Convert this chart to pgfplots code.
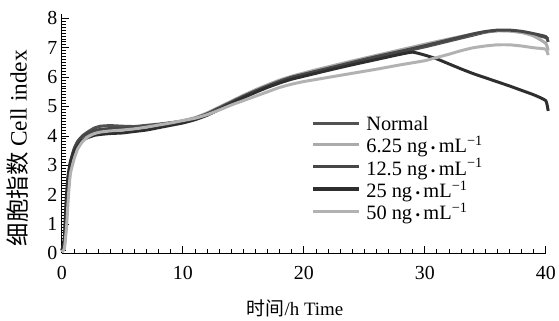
\documentclass[border=0pt]{standalone}
\usepackage{pgfplots}
\pgfplotsset{compat=1.18}
\usepackage{fontspec}
\setmainfont{Liberation Serif}
\newfontfamily\cjk{Noto Sans CJK SC}
\newcommand{\cdotb}{\,{\fontsize{13}{13}\selectfont •}\,}
\begin{document}
\begin{tikzpicture}
\begin{axis}[
  scale only axis, width=485bp, height=240bp,
  xmin=0, xmax=40, ymin=0, ymax=8.15,
  clip=false,
  axis x line*=bottom, axis y line*=left,
  axis line style={-, line width=1pt},
  xtick={0,10,20,30,40}, ytick={0,1,2,3,4,5,6,7,8},
  minor x tick num=9, minor y tick num=9,
  tick align=inside,
  major tick length=7bp, minor tick length=4bp,
  every tick/.style={black, line width=0.8pt},
  /pgf/number format/assume math mode=true,
  tick label style={font=\fontsize{20}{24}\selectfont},
  xticklabel style={yshift=-9bp},
  yticklabel style={xshift=-1bp},
  xlabel={{\cjk 时间}/h Time},
  ylabel={{\cjk 细胞指数} Cell index},
  xlabel style={font=\fontsize{19}{22}\selectfont, at={(axis description cs:0.482,0)}, anchor=center, yshift=-55bp},
  ylabel style={font=\fontsize{23.5}{26}\selectfont, at={(axis description cs:-0.091,0.44)}, anchor=center},
  legend style={at={(axis description cs:0.516,0.58)}, anchor=north west, draw=none, fill=none,
    font=\fontsize{20.5}{22}\selectfont, row sep=2.5bp, inner sep=0pt,
    nodes={inner sep=1.5bp, text depth=0pt}},
  legend cell align=left,
  legend image code/.code={\draw[#1, line width=3.2pt] (0bp,0bp) -- (46bp,0bp);},
  every axis plot/.append style={line width=3pt, smooth, tension=0.3},
]
\addplot[color=black!68] coordinates {(0,0.1)(0.2,0.3)(0.35,1.2)(0.5,2.3)(0.7,3.0)(1,3.5)(1.3,3.8)(1.7,4.0)(2.2,4.15)(2.7,4.27)(3.2,4.33)(4,4.35)(5,4.33)(6,4.32)(7,4.36)(8,4.4)(9,4.45)(10,4.5)(11,4.58)(12,4.72)(13,4.9)(14,5.1)(15,5.3)(16,5.5)(17,5.68)(18,5.85)(19,5.98)(20,6.08)(21,6.18)(22,6.28)(24,6.47)(26,6.66)(28,6.85)(30,7.03)(32,7.23)(34,7.43)(35,7.53)(36,7.58)(37,7.58)(38,7.53)(39,7.45)(40,7.35)(40.2,7.3)};
\addlegendentry{\hspace{4bp}Normal}
\addplot[color=black!33] coordinates {(0,0.05)(0.2,0.2)(0.35,0.9)(0.5,2.0)(0.7,2.8)(1,3.3)(1.3,3.6)(1.7,3.85)(2.2,4.0)(2.7,4.1)(3.2,4.15)(4,4.2)(5,4.22)(6,4.25)(7,4.3)(8,4.37)(9,4.44)(10,4.52)(11,4.62)(12,4.78)(13,4.98)(14,5.18)(15,5.38)(16,5.57)(17,5.74)(18,5.9)(19,6.03)(20,6.14)(21,6.25)(22,6.35)(24,6.55)(26,6.74)(28,6.93)(30,7.12)(32,7.3)(34,7.47)(35,7.55)(36,7.58)(37,7.57)(38,7.52)(39,7.4)(40,7.15)(40.2,6.9)};
\addlegendentry{\hspace{4bp}6.25 ng\cdotb mL\textsuperscript{−1}}
\addplot[color=black!72] coordinates {(0,0.1)(0.2,0.4)(0.35,1.5)(0.5,2.5)(0.7,3.1)(1,3.55)(1.3,3.8)(1.7,3.98)(2.2,4.1)(2.7,4.18)(3.2,4.22)(4,4.25)(5,4.26)(6,4.28)(7,4.32)(8,4.38)(9,4.44)(10,4.5)(11,4.6)(12,4.75)(13,4.95)(14,5.15)(15,5.35)(16,5.53)(17,5.7)(18,5.86)(19,6.0)(20,6.1)(21,6.2)(22,6.3)(24,6.5)(26,6.7)(28,6.88)(30,7.07)(32,7.27)(34,7.47)(35,7.55)(36,7.6)(37,7.6)(38,7.56)(39,7.48)(40,7.38)(40.2,7.2)};
\addlegendentry{\hspace{4bp}12.5 ng\cdotb mL\textsuperscript{−1}}
\addplot[color=black!82] coordinates {(0,0.1)(0.2,0.5)(0.35,1.8)(0.5,2.6)(0.7,3.1)(1,3.45)(1.3,3.65)(1.7,3.85)(2.2,3.95)(2.7,4.02)(3.2,4.05)(4,4.08)(5,4.1)(6,4.15)(7,4.2)(8,4.28)(9,4.36)(10,4.44)(11,4.55)(12,4.7)(13,4.9)(14,5.1)(15,5.3)(16,5.48)(17,5.65)(18,5.8)(19,5.93)(20,6.03)(21,6.13)(22,6.23)(24,6.42)(26,6.6)(28,6.78)(29,6.85)(30,6.75)(31,6.62)(32,6.45)(33,6.28)(34,6.12)(35,5.98)(36,5.84)(37,5.7)(38,5.55)(39,5.4)(40,5.2)(40.2,4.85)};
\addlegendentry{\hspace{4bp}25 ng\cdotb mL\textsuperscript{−1}}
\addplot[color=black!30] coordinates {(0,0.05)(0.2,0.15)(0.3,0.5)(0.4,1.0)(0.55,2.0)(0.7,2.7)(1,3.2)(1.3,3.55)(1.7,3.8)(2.2,3.98)(2.7,4.08)(3.2,4.13)(4,4.17)(5,4.2)(6,4.24)(7,4.3)(8,4.37)(9,4.44)(10,4.52)(11,4.6)(12,4.72)(13,4.88)(14,5.05)(15,5.2)(16,5.35)(17,5.5)(18,5.65)(19,5.76)(20,5.85)(21,5.92)(22,5.99)(24,6.13)(26,6.27)(28,6.42)(30,6.56)(31,6.67)(32,6.78)(33,6.9)(34,7.0)(35,7.06)(36,7.1)(37,7.1)(38,7.06)(39,7.0)(40,6.95)(40.2,6.75)};
\addlegendentry{\hspace{4bp}50 ng\cdotb mL\textsuperscript{−1}}
\end{axis}
\path[use as bounding box] (-62bp,-67bp) rectangle (497bp,254bp);
\end{tikzpicture}
\end{document}
